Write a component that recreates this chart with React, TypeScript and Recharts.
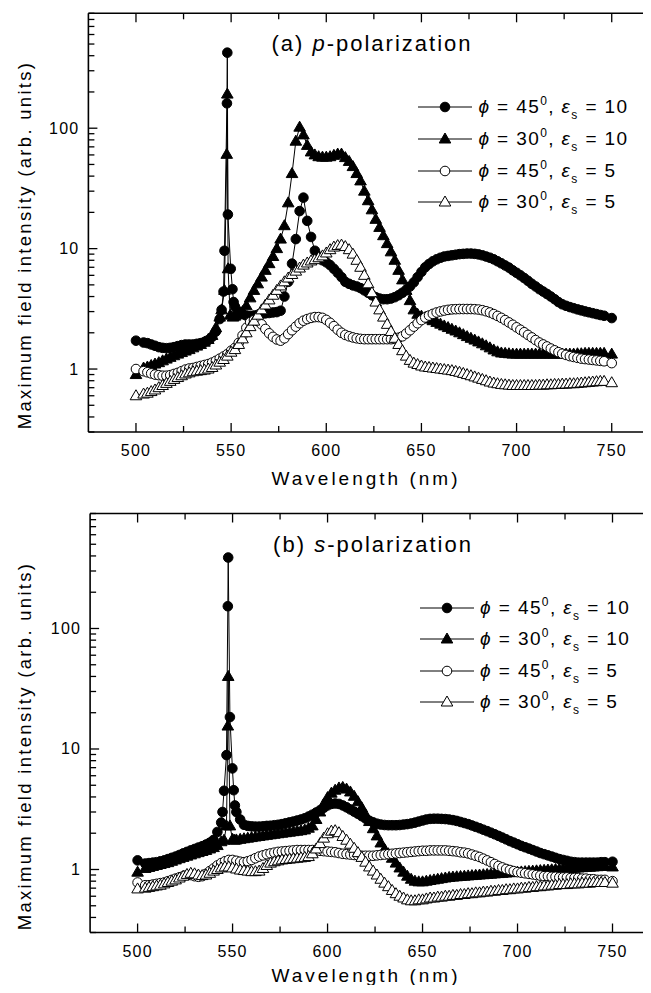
import React from "react";
import { LineChart, Line, XAxis, YAxis } from "recharts";

const FONT = "'Liberation Sans', Arial, Helvetica, sans-serif";

// wavelength grid (nm) shared by every curve, the resonance region 545-551 is given per curve
const wavelength = [
  500,
  504, 506, 508, 510, 512, 514, 516, 518, 520, 522, 524, 526, 528, 530, 532, 534, 536, 538, 540, 542, 544,
  552, 554, 556, 558, 560, 562, 564, 566, 568, 570,
  572, 574, 576, 578, 580, 582, 584, 586, 588, 590,
  592, 594, 596, 598, 600, 602, 604, 606, 608, 610,
  612, 614, 616, 618, 620, 622, 624, 626, 628, 630,
  632, 634, 636, 638, 640, 642, 644, 646, 648, 650,
  652, 654, 656, 658, 660, 662, 664, 666, 668, 670,
  672, 674, 676, 678, 680, 682, 684, 686, 688, 690,
  692, 694, 696, 698, 700, 702, 704, 706, 708, 710,
  712, 714, 716, 718, 720, 722, 724, 726, 728, 730,
  732, 734, 736, 738, 740, 742, 744, 746,
  750,
];

// (a) p-polarization
const pPhi45Eps10 = [
  1.72,
  1.66, 1.64, 1.6, 1.56, 1.52, 1.5, 1.49, 1.5, 1.52, 1.55, 1.58, 1.6, 1.6, 1.6, 1.62, 1.64, 1.68, 1.74, 1.85, 2.05, 2.6,
  3.3, 3.0, 2.85, 2.78, 2.75, 2.78, 2.82, 2.86, 2.9, 2.92,
  2.95, 2.97, 3.05, 4.0, 5.3, 7.5, 12, 20.5, 26.5, 17,
  12.5, 9.6, 8.6, 8.0, 7.7, 7.3, 6.8, 6.3, 5.8, 5.3,
  5.1, 4.95, 4.85, 4.7, 4.5, 4.3, 4.1, 3.95, 3.85, 3.8,
  3.8, 3.85, 3.95, 4.1, 4.3, 4.55, 4.85, 5.25, 5.8, 6.4,
  7.0, 7.45, 7.85, 8.15, 8.4, 8.6, 8.7, 8.8, 8.9, 9.0,
  9.05, 9.1, 9.1, 9.05, 8.95, 8.8, 8.6, 8.4, 8.15, 7.85,
  7.55, 7.25, 6.95, 6.6, 6.3, 6.0, 5.7, 5.4, 5.1, 4.85,
  4.6, 4.4, 4.2, 4.0, 3.8, 3.6, 3.45, 3.35, 3.27, 3.2,
  3.13, 3.07, 3.01, 2.96, 2.91, 2.86, 2.81, 2.77,
  2.65,
];
const pPhi45Eps10PeakWl = [545, 546, 546.5, 547.8, 548, 548.3, 549.8, 550.7, 551.3];
const pPhi45Eps10Peak = [3.1, 4.4, 9.6, 161, 424, 19.2, 6.8, 4.6, 3.6];

const pPhi30Eps10 = [
  0.9,
  1.02, 1.04, 1.07, 1.1, 1.13, 1.17, 1.21, 1.25, 1.29, 1.33, 1.37, 1.41, 1.45, 1.5, 1.55, 1.6, 1.67, 1.76, 1.9, 2.2, 2.7,
  2.75, 2.85, 3.0, 3.35, 3.9, 4.5, 5.1, 5.8, 6.6, 7.5,
  8.6, 10, 12, 15.5, 24, 42, 78, 102, 88, 72,
  63.5, 60, 58, 57.5, 57.5, 58, 59.5, 61, 61, 57,
  53, 48, 42, 36.5, 30, 25, 21, 17.5, 15, 12.8,
  11, 9.4, 8.0, 6.6, 5.5, 4.5, 3.7, 3.1, 2.85, 2.75,
  2.68, 2.6, 2.52, 2.44, 2.36, 2.28, 2.21, 2.14, 2.07, 2.0,
  1.93, 1.86, 1.8, 1.74, 1.68, 1.62, 1.56, 1.5, 1.44, 1.39,
  1.36, 1.35, 1.34, 1.33, 1.33, 1.33, 1.33, 1.33, 1.33, 1.33,
  1.33, 1.33, 1.33, 1.33, 1.33, 1.33, 1.33, 1.33, 1.33, 1.33,
  1.34, 1.34, 1.35, 1.35, 1.35, 1.35, 1.35, 1.35,
  1.33,
];
const pPhi30Eps10PeakWl = [545, 546.5, 547.7, 548, 548.4, 549.5, 551];
const pPhi30Eps10Peak = [3.1, 4.5, 60.7, 192, 6.8, 2.8, 2.7];

const pPhi45Eps5 = [
  1.0,
  0.96, 0.94, 0.92, 0.9, 0.89, 0.88, 0.88, 0.89, 0.91, 0.93, 0.96, 0.99, 1.01, 1.02, 1.04, 1.06, 1.08, 1.1, 1.13, 1.17, 1.22,
  1.5, 1.65, 1.9, 2.2, 2.45, 2.55, 2.5, 2.35, 2.15, 1.98,
  1.85, 1.76, 1.72, 1.8, 1.95, 2.1, 2.25, 2.4, 2.52, 2.6,
  2.66, 2.7, 2.7, 2.66, 2.56, 2.42, 2.27, 2.12, 2.0, 1.92,
  1.87, 1.83, 1.8, 1.78, 1.77, 1.77, 1.77, 1.77, 1.77, 1.77,
  1.77, 1.77, 1.78, 1.82, 1.87, 1.97, 2.1, 2.25, 2.4, 2.55,
  2.68, 2.78, 2.87, 2.95, 3.01, 3.06, 3.1, 3.13, 3.14, 3.15,
  3.15, 3.15, 3.15, 3.14, 3.12, 3.08, 3.02, 2.95, 2.86, 2.76,
  2.66, 2.55, 2.44, 2.33, 2.22, 2.12, 2.02, 1.92, 1.83, 1.74,
  1.66, 1.6, 1.54, 1.48, 1.43, 1.38, 1.34, 1.31, 1.28, 1.26,
  1.24, 1.22, 1.21, 1.2, 1.19, 1.18, 1.17, 1.16,
  1.12,
];
const pPhi45Eps5PeakWl = [546, 548, 550];
const pPhi45Eps5Peak = [1.27, 1.33, 1.42];

const pPhi30Eps5 = [
  0.6,
  0.62, 0.63, 0.65, 0.67, 0.7, 0.73, 0.76, 0.79, 0.82, 0.85, 0.88, 0.91, 0.93, 0.95, 0.96, 0.97, 0.98, 1.0, 1.03, 1.08, 1.14,
  1.45, 1.6, 1.78, 2.0, 2.25, 2.5, 2.8, 3.1, 3.4, 3.75,
  4.1, 4.5, 4.9, 5.3, 5.7, 6.1, 6.5, 6.9, 7.3, 7.6,
  7.9, 8.1, 8.4, 8.7, 9.2, 9.8, 10.3, 10.6, 10.7, 10.4,
  9.8, 9.0, 8.0, 7.0, 6.0, 5.1, 4.3, 3.6, 3.1, 2.7,
  2.35, 2.05, 1.8, 1.6, 1.42, 1.28, 1.18, 1.12, 1.09, 1.06,
  1.04, 1.03, 1.02, 1.01, 1.0, 0.99, 0.98, 0.97, 0.955, 0.94,
  0.92, 0.9, 0.88, 0.86, 0.84, 0.82, 0.8, 0.78, 0.765, 0.755,
  0.745, 0.74, 0.735, 0.73, 0.73, 0.73, 0.73, 0.73, 0.73, 0.73,
  0.735, 0.735, 0.74, 0.74, 0.745, 0.745, 0.75, 0.75, 0.755, 0.755,
  0.76, 0.765, 0.77, 0.775, 0.78, 0.785, 0.79, 0.79,
  0.77,
];
const pPhi30Eps5PeakWl = [546, 548, 550];
const pPhi30Eps5Peak = [1.2, 1.28, 1.38];

// (b) s-polarization
const sPhi45Eps10 = [
  1.19,
  1.12, 1.13, 1.14, 1.15, 1.17, 1.19, 1.22, 1.25, 1.28, 1.32, 1.36, 1.4, 1.44, 1.48, 1.52, 1.56, 1.61, 1.67, 1.76, 2.05, 2.45,
  3.0, 2.6, 2.35, 2.3, 2.28, 2.27, 2.27, 2.28, 2.3, 2.31,
  2.33, 2.35, 2.38, 2.42, 2.46, 2.5, 2.55, 2.6, 2.66, 2.75,
  2.85, 2.97, 3.1, 3.25, 3.4, 3.5, 3.53, 3.5, 3.4, 3.28,
  3.15, 3.02, 2.9, 2.77, 2.65, 2.54, 2.46, 2.4, 2.36, 2.34,
  2.33, 2.33, 2.33, 2.34, 2.36, 2.38, 2.41, 2.45, 2.5, 2.55,
  2.6, 2.63, 2.64, 2.64, 2.63, 2.62, 2.6, 2.57, 2.53, 2.48,
  2.43, 2.38, 2.32, 2.26, 2.2, 2.14, 2.08, 2.02, 1.96, 1.9,
  1.84, 1.78, 1.72, 1.67, 1.62, 1.57, 1.53, 1.49, 1.45, 1.41,
  1.37, 1.34, 1.31, 1.28, 1.25, 1.22, 1.2, 1.18, 1.16, 1.15,
  1.14, 1.14, 1.14, 1.14, 1.14, 1.14, 1.15, 1.15,
  1.16,
];
const sPhi45Eps10PeakWl = [544.7, 545.5, 546.8, 547.5, 547.7, 548.6, 549.9, 550.6, 551.2];
const sPhi45Eps10Peak = [3.0, 4.5, 8.9, 153, 388, 18.4, 6.9, 4.55, 3.4];

const sPhi30Eps10 = [
  0.95,
  1.02, 1.04, 1.06, 1.08, 1.1, 1.12, 1.14, 1.17, 1.2, 1.23, 1.26, 1.29, 1.32, 1.35, 1.38, 1.41, 1.44, 1.48, 1.52, 1.58, 1.7,
  1.76, 1.78, 1.8, 1.82, 1.84, 1.86, 1.88, 1.9, 1.92, 1.94,
  1.96, 1.98, 2.0, 2.02, 2.04, 2.06, 2.08, 2.1, 2.13, 2.2,
  2.3, 2.6, 3.0, 3.5, 3.95, 4.3, 4.55, 4.75, 4.8, 4.65,
  4.4, 4.05, 3.65, 3.25, 2.85, 2.5, 2.18, 1.9, 1.66, 1.47,
  1.35, 1.24, 1.13, 1.03, 0.95, 0.88, 0.83, 0.8, 0.79, 0.79,
  0.8, 0.81, 0.82, 0.83, 0.84, 0.85, 0.86, 0.865, 0.87, 0.875,
  0.88, 0.885, 0.89, 0.895, 0.9, 0.905, 0.91, 0.915, 0.92, 0.925,
  0.93, 0.935, 0.94, 0.945, 0.95, 0.955, 0.96, 0.965, 0.97, 0.975,
  0.98, 0.985, 0.99, 0.995, 1.0, 1.005, 1.01, 1.015, 1.02, 1.025,
  1.03, 1.035, 1.04, 1.045, 1.05, 1.055, 1.06, 1.065,
  1.05,
];
const sPhi30Eps10PeakWl = [545.5, 546.8, 547.5, 547.7, 548.6, 550, 551];
const sPhi30Eps10Peak = [1.75, 2.3, 15.5, 40, 2.3, 1.78, 1.75];

const sPhi45Eps5 = [
  0.78,
  0.74, 0.74, 0.75, 0.76, 0.77, 0.78, 0.8, 0.82, 0.84, 0.86, 0.88, 0.9, 0.9, 0.88, 0.87, 0.88, 0.92, 0.97, 1.02, 1.08, 1.13,
  1.18, 1.16, 1.15, 1.17, 1.2, 1.24, 1.28, 1.31, 1.34, 1.36,
  1.38, 1.4, 1.41, 1.42, 1.43, 1.44, 1.45, 1.45, 1.45, 1.45,
  1.45, 1.44, 1.43, 1.42, 1.41, 1.4, 1.39, 1.37, 1.35, 1.34,
  1.33, 1.32, 1.31, 1.3, 1.3, 1.3, 1.3, 1.31, 1.32, 1.33,
  1.34, 1.35, 1.36, 1.37, 1.38, 1.39, 1.4, 1.41, 1.42, 1.43,
  1.43, 1.44, 1.44, 1.44, 1.44, 1.44, 1.43, 1.42, 1.41, 1.39,
  1.38, 1.36, 1.33, 1.3, 1.27, 1.23, 1.19, 1.15, 1.11, 1.07,
  1.04, 1.01, 0.99, 0.97, 0.95, 0.94, 0.93, 0.92, 0.91, 0.9,
  0.89, 0.88, 0.88, 0.87, 0.87, 0.86, 0.86, 0.86, 0.85, 0.85,
  0.85, 0.84, 0.84, 0.83, 0.83, 0.82, 0.82, 0.82,
  0.8,
];
const sPhi45Eps5PeakWl = [546, 548, 550];
const sPhi45Eps5Peak = [1.17, 1.2, 1.2];

const sPhi30Eps5 = [
  0.69,
  0.7, 0.71, 0.72, 0.73, 0.74, 0.76, 0.78, 0.8, 0.82, 0.85, 0.88, 0.91, 0.93, 0.92, 0.9, 0.89, 0.9, 0.93, 0.97, 1.0, 1.03,
  1.01, 0.99, 0.98, 0.97, 0.96, 0.96, 0.97, 1.02, 1.08, 1.13,
  1.16, 1.18, 1.2, 1.21, 1.22, 1.23, 1.24, 1.25, 1.26, 1.28,
  1.35, 1.48, 1.64, 1.82, 1.98, 2.08, 2.1, 2.02, 1.88, 1.75,
  1.62, 1.5, 1.38, 1.26, 1.15, 1.05, 0.97, 0.9, 0.83, 0.77,
  0.72, 0.67, 0.63, 0.6, 0.58, 0.56, 0.55, 0.55, 0.56, 0.56,
  0.57, 0.58, 0.58, 0.59, 0.59, 0.6, 0.6, 0.61, 0.61, 0.62,
  0.62, 0.63, 0.63, 0.64, 0.64, 0.65, 0.65, 0.66, 0.66, 0.67,
  0.67, 0.68, 0.68, 0.69, 0.69, 0.7, 0.7, 0.71, 0.71, 0.72,
  0.72, 0.73, 0.73, 0.74, 0.74, 0.75, 0.75, 0.75, 0.76, 0.76,
  0.76, 0.77, 0.77, 0.77, 0.78, 0.78, 0.78, 0.78,
  0.77,
];
const sPhi30Eps5PeakWl = [546, 548, 550];
const sPhi30Eps5Peak = [1.05, 1.05, 1.03];

const legendPhi = ["45", "30", "45", "30"];
const legendEps = ["10", "10", "5", "5"];

const xTicks = [500, 525, 550, 575, 600, 625, 650, 675, 700, 725, 750];
const xLabels = [500, 550, 600, 650, 700, 750];
const yTicks = [
  0.3, 0.4, 0.5, 0.6, 0.7, 0.8, 0.9, 1, 2, 3, 4, 5, 6, 7, 8, 9, 10,
  20, 30, 40, 50, 60, 70, 80, 90, 100, 200, 300, 400, 500, 600, 700, 800, 900,
];
const yLabels = [1, 10, 100];

type Pt = { wl: number; v: number };

function merge(base: number[], peakWl: number[], peak: number[]): Pt[] {
  const pts: Pt[] = wavelength.map((w, i) => ({ wl: w, v: base[i] }));
  peakWl.forEach((w, i) => pts.push({ wl: w, v: peak[i] }));
  return pts.sort((a, b) => a.wl - b.wl);
}

const marks = [
  { shape: "circle", filled: true },
  { shape: "triangle", filled: true },
  { shape: "circle", filled: false },
  { shape: "triangle", filled: false },
];

function Marker({ cx, cy, shape, filled }: any) {
  if (cx == null || cy == null || isNaN(cy)) return null;
  const fill = filled ? "#000" : "#fff";
  if (shape === "circle")
    return <circle cx={cx} cy={cy} r={4.8} fill={fill} stroke="#000" strokeWidth={1} />;
  return (
    <path
      d={`M${cx},${cy - 6}L${cx + 5.8},${cy + 4}L${cx - 5.8},${cy + 4}Z`}
      fill={fill}
      stroke="#000"
      strokeWidth={1}
    />
  );
}

const MAJOR = 9;
const MINOR = 6;

const BottomTick = (p: any) => {
  const v = p.payload.value;
  const major = xLabels.includes(v);
  return (
    <g>
      <line x1={p.x} x2={p.x} y1={p.y} y2={p.y - (major ? MAJOR : MINOR)} stroke="#000" strokeWidth={1.3} />
      {major && (
        <text x={p.x} y={p.y + 24} textAnchor="middle" fontSize={16} fontFamily={FONT} letterSpacing={1.2} fill="#000">
          {v}
        </text>
      )}
    </g>
  );
};

const TopTick = (p: any) => {
  const major = xLabels.includes(p.payload.value);
  return <line x1={p.x} x2={p.x} y1={p.y} y2={p.y + (major ? MAJOR : MINOR)} stroke="#000" strokeWidth={1.3} />;
};

const LeftTick = (p: any) => {
  const v = p.payload.value;
  const major = yLabels.includes(v);
  return (
    <g>
      <line x1={p.x} x2={p.x + (major ? MAJOR : MINOR)} y1={p.y} y2={p.y} stroke="#000" strokeWidth={1.3} />
      {major && (
        <text x={p.x - 9} y={p.y + 5.5} textAnchor="end" fontSize={16} fontFamily={FONT} letterSpacing={1.2} fill="#000">
          {v}
        </text>
      )}
    </g>
  );
};

const RightTick = (p: any) => {
  const major = yLabels.includes(p.payload.value);
  return <line x1={p.x} x2={p.x - (major ? MAJOR : MINOR)} y1={p.y} y2={p.y} stroke="#000" strokeWidth={1.3} />;
};

// axis band sizes; the plot box = margin + these
const BOTTOM_H = 30;
const TOP_H = 4;
const LEFT_W = 60;
const RIGHT_W = 4;
const CHART_W = 700;
const CHART_H = 480;

function Panel({ top, box, series, letter, pol, xLabelY }: any) {
  const axisLine = { stroke: "#000", strokeWidth: 1.6 };
  const margin = {
    top: box.top - TOP_H,
    left: box.left - LEFT_W,
    right: CHART_W - box.right - RIGHT_W,
    bottom: CHART_H - box.bottom - BOTTOM_H,
  };
  const legendTop = top + box.top + 94;
  return (
    <>
      <div style={{ position: "absolute", left: 0, top }}>
        <LineChart width={CHART_W} height={CHART_H} margin={margin}>
          <XAxis
            dataKey="wl"
            type="number"
            domain={[475, 775]}
            allowDataOverflow
            ticks={xTicks}
            interval={0}
            height={BOTTOM_H}
            tickSize={0}
            tickMargin={0}
            tickLine={false}
            axisLine={axisLine}
            tick={BottomTick}
          />
          <XAxis
            xAxisId="top"
            orientation="top"
            dataKey="wl"
            type="number"
            domain={[475, 775]}
            allowDataOverflow
            ticks={xTicks}
            interval={0}
            height={TOP_H}
            tickSize={0}
            tickMargin={0}
            tickLine={false}
            axisLine={axisLine}
            tick={TopTick}
          />
          <YAxis
            type="number"
            scale="log"
            domain={[0.3, 900]}
            allowDataOverflow
            ticks={yTicks}
            interval={0}
            width={LEFT_W}
            tickSize={0}
            tickMargin={0}
            tickLine={false}
            axisLine={axisLine}
            tick={LeftTick}
          />
          <YAxis
            yAxisId="right"
            orientation="right"
            type="number"
            scale="log"
            domain={[0.3, 900]}
            allowDataOverflow
            ticks={yTicks}
            interval={0}
            width={RIGHT_W}
            tickSize={0}
            tickMargin={0}
            tickLine={false}
            axisLine={false}
            tick={RightTick}
          />
          {series.map((d: Pt[], k: number) => (
            <Line
              key={k}
              data={d}
              dataKey="v"
              type="linear"
              stroke="#000"
              strokeWidth={1}
              isAnimationActive={false}
              activeDot={false}
              dot={(p: any) => (
                <Marker key={`m${k}-${p.index}`} cx={p.cx} cy={p.cy} shape={marks[k].shape} filled={marks[k].filled} />
              )}
            />
          ))}
        </LineChart>
      </div>
      <div
        style={{
          position: "absolute",
          left: box.left + 183,
          top: top + box.top + 18,
          fontSize: 22,
          letterSpacing: 2,
          lineHeight: "26px",
          whiteSpace: "nowrap",
        }}
      >
        ({letter}) <i>{pol}</i>-polarization
      </div>
      {marks.map((m, k) => (
        <div
          key={k}
          style={{
            position: "absolute",
            left: box.left + 330,
            top: legendTop + k * 31.6 - 13,
            height: 26,
            display: "flex",
            alignItems: "center",
            whiteSpace: "nowrap",
          }}
        >
          <svg width={54} height={26}>
            <line x1={0} x2={54} y1={13} y2={13} stroke="#000" strokeWidth={1} />
            <Marker cx={27} cy={13} shape={m.shape} filled={m.filled} />
          </svg>
          <span style={{ marginLeft: 6, fontSize: 19, letterSpacing: 1.4 }}>
            <i>ϕ</i> = {legendPhi[k]}
            <span style={{ fontSize: 12, position: "relative", top: -8 }}>0</span>, <i>ε</i>
            <span style={{ fontSize: 12, position: "relative", top: 6 }}>s</span> = {legendEps[k]}
          </span>
        </div>
      ))}
      <div
        style={{
          position: "absolute",
          left: 25,
          top: top + box.top + 232,
          transform: "translate(-50%, -50%) rotate(-90deg)",
          whiteSpace: "nowrap",
          fontSize: 18.5,
          letterSpacing: 2.3,
        }}
      >
        Maximum field intensity (arb. units)
      </div>
      <div
        style={{
          position: "absolute",
          left: 366,
          top: xLabelY,
          transform: "translate(-50%, -50%)",
          whiteSpace: "nowrap",
          fontSize: 19,
          lineHeight: "22px",
          letterSpacing: 3,
        }}
      >
        Wavelength (nm)
      </div>
    </>
  );
}

const seriesP = [
  merge(pPhi45Eps10, pPhi45Eps10PeakWl, pPhi45Eps10Peak),
  merge(pPhi30Eps10, pPhi30Eps10PeakWl, pPhi30Eps10Peak),
  merge(pPhi45Eps5, pPhi45Eps5PeakWl, pPhi45Eps5Peak),
  merge(pPhi30Eps5, pPhi30Eps5PeakWl, pPhi30Eps5Peak),
];
const seriesS = [
  merge(sPhi45Eps10, sPhi45Eps10PeakWl, sPhi45Eps10Peak),
  merge(sPhi30Eps10, sPhi30Eps10PeakWl, sPhi30Eps10Peak),
  merge(sPhi45Eps5, sPhi45Eps5PeakWl, sPhi45Eps5Peak),
  merge(sPhi30Eps5, sPhi30Eps5PeakWl, sPhi30Eps5Peak),
];

export default function App() {
  return (
    <div
      style={{
        position: "relative",
        width: 651,
        height: 993,
        margin: -8,
        overflow: "hidden",
        background: "#fff",
        fontFamily: FONT,
        color: "#000",
      }}
    >
      <Panel
        top={0}
        box={{ top: 13.3, left: 88.4, right: 659.3, bottom: 432 }}
        series={seriesP}
        letter="a"
        pol="p"
        xLabelY={479}
      />
      <Panel
        top={500}
        box={{ top: 13.5, left: 90.1, right: 660, bottom: 432.5 }}
        series={seriesS}
        letter="b"
        pol="s"
        xLabelY={976}
      />
    </div>
  );
}
